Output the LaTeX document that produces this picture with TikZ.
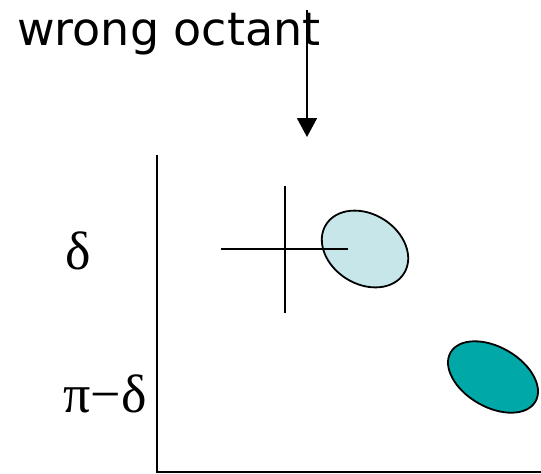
\documentclass[tikz,border=0pt]{standalone}
\usepackage{fontspec}
\setmainfont{Liberation Serif}
\newfontfamily\labelfont{DejaVu Sans}
\definecolor{palecyan}{RGB}{198,230,233}
\definecolor{darkteal}{RGB}{0,168,168}
\usetikzlibrary{positioning,arrows.meta}

\begin{document}
\begin{tikzpicture}[x=1pt,y=-1pt,
    axis/.style={line width=2pt},
    greek/.style={font=\fontsize{54}{54}\selectfont,inner sep=0}]
    \useasboundingbox (0,0) rectangle (541,474);

    % title and pointer
    \node[font=\labelfont\fontsize{46}{46}\selectfont,anchor=base west,inner sep=0] (title) at (17,45) {wrong octant};
    \coordinate (tip0) at (307,10);
    \coordinate (tip1) at (307,137);
    \draw[line width=1.8pt,-{Triangle[width=20pt,length=19pt]}] (tip0) -- (tip1);

    % axes
    \coordinate (origin) at (157,472);
    \coordinate (ytop) at (157,155);
    \coordinate (xend) at (541,472);
    \draw[axis] (ytop) -- (origin) -- (xend);

    % tick labels
    \node[greek] (d) at (78,251) {δ};
    \node[greek] (pd) at (105,394) {π−δ};

    % ellipses
    \fill[palecyan,rotate around={-32:(365,249)}] (365,249) ellipse (46 and 35);
    \draw[line width=1.8pt,rotate around={-32:(365,249)}] (365,249) ellipse (46 and 35);
    \fill[darkteal,rotate around={-30:(493,377)}] (493,377) ellipse (49 and 30);
    \draw[line width=1.8pt,rotate around={-30:(493,377)}] (493,377) ellipse (49 and 30);

    % cross
    \coordinate (cl) at (221,249);
    \coordinate (cr) at (348,249);
    \coordinate (ct) at (285,186);
    \coordinate (cb) at (285,313);
    \draw[axis] (cl) -- (cr);
    \draw[axis] (ct) -- (cb);
\end{tikzpicture}
\end{document}
